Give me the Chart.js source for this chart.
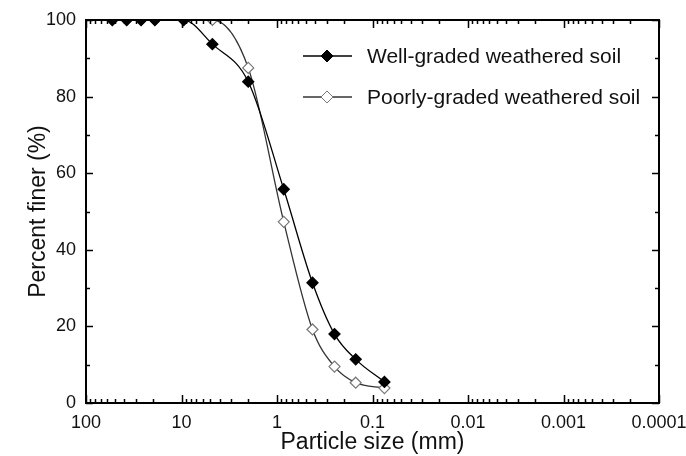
<!DOCTYPE html>
<html>
<head>
<meta charset="utf-8">
<script src="https://cdn.jsdelivr.net/npm/chart.js@4"></script>
<style>
  html, body { margin: 0; padding: 0; background: #fff; }
  #wrap { width: 686px; height: 456px; }
</style>
</head>
<body>
<div id="wrap"><canvas id="psd"></canvas></div>
<script>
// sieve sizes (mm) and percent passing
const sizes = [53, 37.5, 26.5, 19, 9.5, 4.75, 2, 0.85, 0.425, 0.25, 0.15, 0.075];
const wellGraded = [100, 100, 100, 100, 100, 93.7, 83.9, 55.8, 31.4, 18.0, 11.4, 5.5];
const poorlyGraded = [100, 100, 100, 100, 100, 100, 87.5, 47.3, 19.2, 9.5, 5.3, 3.9];
const seriesNames = ['Well-graded weathered soil', 'Poorly-graded weathered soil'];

const xTickValues = [100, 10, 1, 0.1, 0.01, 0.001, 0.0001];
const xTickLabels = ['100', '10', '1', '0.1', '0.01', '0.001', '0.0001'];
const yTickValues = [0, 20, 40, 60, 80, 100];

const FONT = '"Liberation Sans", Arial, sans-serif';

function toPoints(vals) {
    return sizes.map((s, i) => ({ x: s, y: vals[i] }));
}

// minor tick positions on the log axis: 1..9 times each decade
const xMinor = [];
xTickValues.slice(1).forEach(d => {
    for (let k = 2; k <= 9; k++) xMinor.push(d * k);
});
const yMinor = [10, 30, 50, 70, 90];

// frame + inward ticks on all four sides
const frameTicks = {
    id: 'frameTicks',
    afterDraw(chart) {
        const { ctx, chartArea: a, scales: { x, y } } = chart;
        ctx.save();
        ctx.strokeStyle = '#000';
        ctx.lineWidth = 1.5;
        ctx.beginPath();
        xTickValues.forEach(v => {
            const px = Math.round(x.getPixelForValue(v)) + 0.5;
            ctx.moveTo(px, a.bottom); ctx.lineTo(px, a.bottom - 8);
            ctx.moveTo(px, a.top); ctx.lineTo(px, a.top + 8);
        });
        xMinor.forEach(v => {
            const px = Math.round(x.getPixelForValue(v)) + 0.5;
            ctx.moveTo(px, a.bottom); ctx.lineTo(px, a.bottom - 4);
            ctx.moveTo(px, a.top); ctx.lineTo(px, a.top + 4);
        });
        yTickValues.forEach(v => {
            const py = Math.round(y.getPixelForValue(v)) + 0.5;
            ctx.moveTo(a.left, py); ctx.lineTo(a.left + 7, py);
            ctx.moveTo(a.right, py); ctx.lineTo(a.right - 7, py);
        });
        yMinor.forEach(v => {
            const py = Math.round(y.getPixelForValue(v)) + 0.5;
            ctx.moveTo(a.left, py); ctx.lineTo(a.left + 4, py);
            ctx.moveTo(a.right, py); ctx.lineTo(a.right - 4, py);
        });
        ctx.stroke();
        ctx.lineWidth = 2;
        ctx.strokeRect(a.left, a.top, a.right - a.left, a.bottom - a.top);
        ctx.restore();
    }
};

// legend drawn inside the plot, upper right
const innerLegend = {
    id: 'innerLegend',
    afterDraw(chart) {
        const ctx = chart.ctx;
        const rows = [56, 97];
        ctx.save();
        chart.data.datasets.forEach((ds, i) => {
            const yy = rows[i];
            ctx.strokeStyle = ds.borderColor;
            ctx.lineWidth = 1.3;
            ctx.beginPath();
            ctx.moveTo(303, yy); ctx.lineTo(352, yy);
            ctx.stroke();
            ctx.fillStyle = ds.pointBackgroundColor;
            ctx.strokeStyle = ds.pointBorderColor;
            ctx.lineWidth = 1;
            Chart.helpers.drawPoint(ctx, { pointStyle: 'rectRot', radius: 6, borderWidth: 1 }, 327, yy);
            ctx.fillStyle = '#111';
            ctx.font = '21px ' + FONT;
            ctx.textBaseline = 'middle';
            ctx.fillText(ds.label, 367, yy + 1);
        });
        ctx.restore();
    }
};

new Chart(document.getElementById('psd'), {
    type: 'line',
    data: {
        datasets: [{
            label: seriesNames[0],
            data: toPoints(wellGraded),
            borderColor: '#000',
            borderWidth: 1.3,
            pointStyle: 'rectRot',
            pointRadius: 5.5,
            pointBackgroundColor: '#000',
            pointBorderColor: '#000',
            cubicInterpolationMode: 'monotone'
        }, {
            label: seriesNames[1],
            data: toPoints(poorlyGraded),
            borderColor: '#333',
            borderWidth: 1.3,
            pointStyle: 'rectRot',
            pointRadius: 5.5,
            pointBackgroundColor: '#fff',
            pointBorderColor: '#777',
            pointBorderWidth: 1.2,
            cubicInterpolationMode: 'monotone'
        }]
    },
    options: {
        responsive: true,
        maintainAspectRatio: false,
        animation: false,
        layout: { padding: { top: 20, right: 27, left: 0, bottom: 0 } },
        plugins: {
            legend: { display: false },
            tooltip: { enabled: false }
        },
        scales: {
            x: {
                type: 'logarithmic',
                reverse: true,
                min: 0.0001,
                max: 100,
                afterBuildTicks: s => { s.ticks = xTickValues.map(v => ({ value: v })); },
                afterFit: s => { s.height = 53; s.paddingLeft = 0; s.paddingRight = 0; },
                grid: { display: false, drawTicks: false },
                border: { display: false },
                ticks: {
                    autoSkip: false,
                    maxRotation: 0,
                    padding: 9,
                    color: '#111',
                    font: { family: FONT, size: 18 },
                    callback: (v, i) => xTickLabels[i]
                },
                title: {
                    display: true,
                    text: 'Particle size (mm)',
                    color: '#111',
                    font: { family: FONT, size: 23 },
                    padding: { top: 0, bottom: 0 }
                }
            },
            y: {
                min: 0,
                max: 100,
                afterBuildTicks: s => { s.ticks = yTickValues.map(v => ({ value: v })); },
                afterFit: s => { s.width = 86; s.paddingTop = 0; s.paddingBottom = 0; },
                grid: { display: false, drawTicks: false },
                border: { display: false },
                ticks: {
                    padding: 10,
                    color: '#111',
                    font: { family: FONT, size: 18 }
                },
                title: {
                    display: true,
                    text: 'Percent finer (%)',
                    color: '#111',
                    font: { family: FONT, size: 23 },
                    padding: { top: 25, bottom: 0 }
                }
            }
        }
    },
    plugins: [frameTicks, innerLegend]
});
</script>
</body>
</html>
